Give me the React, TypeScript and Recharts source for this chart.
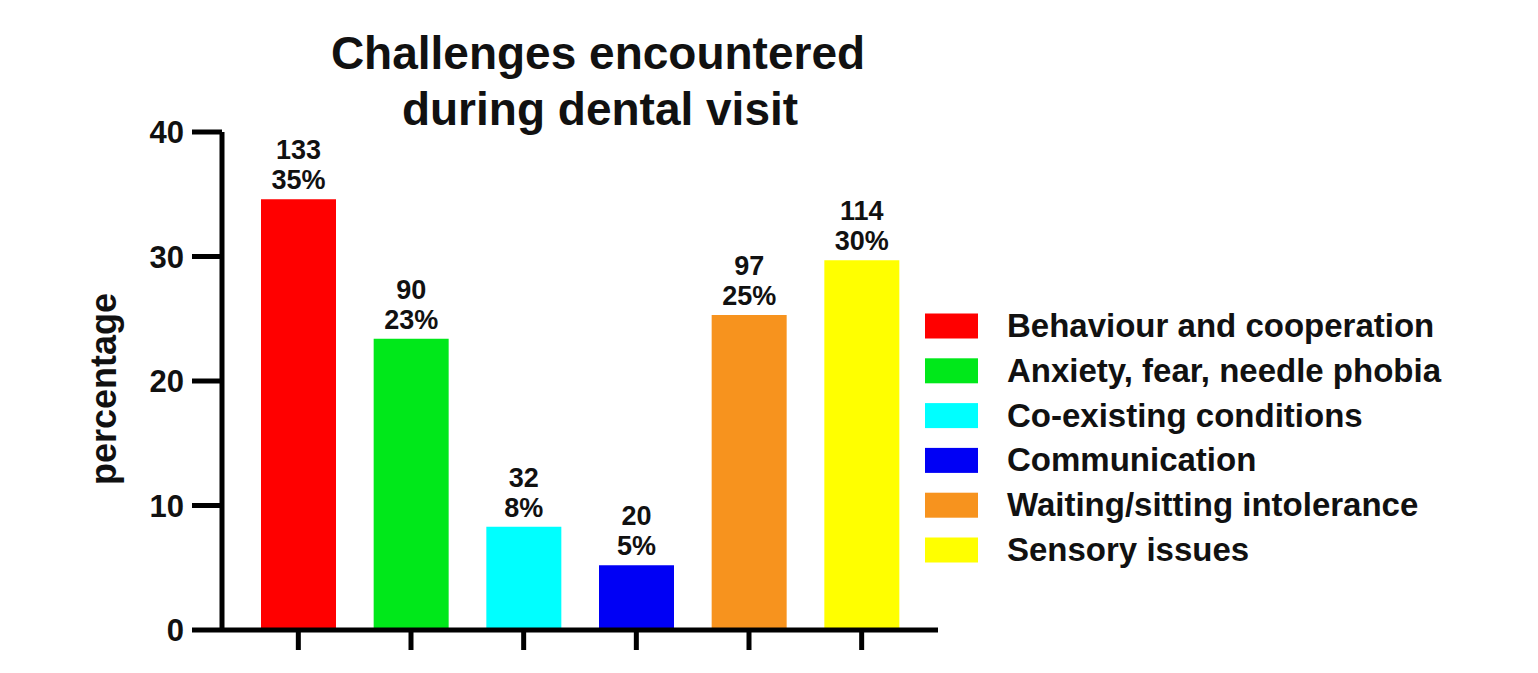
import React from "react";
import { BarChart, Bar, XAxis, YAxis, Cell, LabelList } from "recharts";

const categories = [
  "Behaviour and cooperation",
  "Anxiety, fear, needle phobia",
  "Co-existing conditions",
  "Communication",
  "Waiting/sitting intolerance",
  "Sensory issues",
];
const counts = [133, 90, 32, 20, 97, 114];
const percentages = [34.6, 23.4, 8.3, 5.2, 25.3, 29.7];
const percentLabels = ["35%", "23%", "8%", "5%", "25%", "30%"];
const colors = ["#ff0000", "#00e81a", "#00ffff", "#0000f5", "#f7931e", "#ffff00"];
const yTicks = [0, 10, 20, 30, 40];

const FONT = "'Liberation Sans', Arial, sans-serif";

const data = categories.map((name, i) => ({
  name,
  value: percentages[i],
  count: counts[i],
  pct: percentLabels[i],
}));

function ValueLabel(props: any) {
  const { x, y, width, index } = props;
  const cx = x + width / 2;
  return (
    <g>
      <text x={cx} y={y - 40} textAnchor="middle" fontFamily={FONT} fontWeight="bold" fontSize={27} fill="#111">
        {counts[index]}
      </text>
      <text x={cx} y={y - 10} textAnchor="middle" fontFamily={FONT} fontWeight="bold" fontSize={27} fill="#111">
        {percentLabels[index]}
      </text>
    </g>
  );
}

export default function App() {
  return (
    <div style={{ position: "absolute", left: 0, top: 0, width: 1538, height: 673, background: "#fff" }}>
      <BarChart
        width={1538}
        height={673}
        data={data}
        margin={{ top: 132, right: 600, bottom: 0, left: 0 }}
        barSize={75}
      >
        <XAxis
          dataKey="name"
          height={43}
          padding={{ left: 20, right: 20 }}
          axisLine={{ stroke: "#000", strokeWidth: 5 }}
          tickLine={{ stroke: "#000", strokeWidth: 5 }}
          tickSize={20}
          tickFormatter={() => ""}
        />
        <YAxis
          width={222}
          domain={[0, 40]}
          ticks={yTicks}
          interval={0}
          axisLine={{ stroke: "#000", strokeWidth: 5 }}
          tickLine={{ stroke: "#000", strokeWidth: 5 }}
          tickSize={30}
          tickMargin={8}
          tick={{ fill: "#111", fontSize: 31, fontWeight: "bold", fontFamily: FONT }}
          label={{
            value: "percentage",
            angle: -90,
            position: "center",
            dx: -8,
            dy: 8,
            style: { fill: "#111", fontSize: 36, fontWeight: "bold", fontFamily: FONT },
          }}
        />
        <Bar dataKey="value" isAnimationActive={false}>
          {data.map((d, i) => (
            <Cell key={d.name} fill={colors[i]} />
          ))}
          <LabelList dataKey="value" content={ValueLabel} />
        </Bar>
      </BarChart>
      <svg
        width={1538}
        height={673}
        style={{ position: "absolute", left: 0, top: 0, pointerEvents: "none" }}
      >
        <text x={598} y={69} textAnchor="middle" fontFamily={FONT} fontWeight="bold" fontSize={46} fill="#111">
          Challenges encountered
        </text>
        <text x={600} y={125} textAnchor="middle" fontFamily={FONT} fontWeight="bold" fontSize={46} fill="#111">
          during dental visit
        </text>
        {categories.map((c, i) => {
          const cy = 326 + i * 44.8;
          return (
            <g key={c}>
              <rect x={925} y={cy - 12.5} width={53} height={25} fill={colors[i]} />
              <text x={1007} y={cy + 11} fontFamily={FONT} fontWeight="bold" fontSize={33} fill="#111">
                {c}
              </text>
            </g>
          );
        })}
      </svg>
    </div>
  );
}
